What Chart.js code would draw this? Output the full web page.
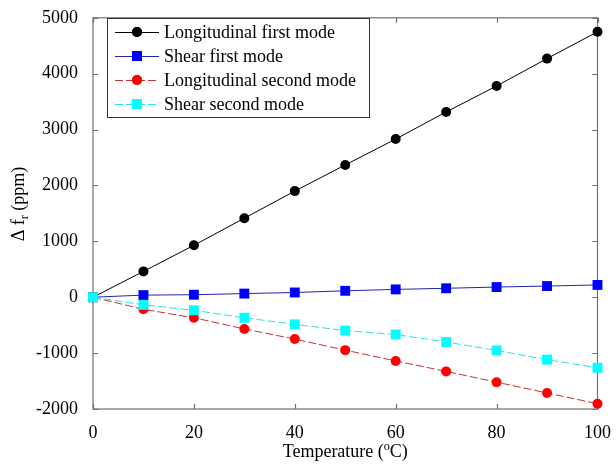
<!DOCTYPE html>
<html>
<head>
<meta charset="utf-8">
<script src="https://cdn.jsdelivr.net/npm/chart.js@4.4.1/dist/chart.umd.min.js"></script>
<style>
html,body{margin:0;padding:0;background:#fff;}
#wrap{width:616px;height:468px;}
</style>
</head>
<body>
<div id="wrap"><canvas id="c" width="616" height="468"></canvas></div>
<script>
const temperatures = [0, 10, 20, 30, 40, 50, 60, 70, 80, 90, 100];
const longitudinalFirst = [0, 462, 929, 1414, 1899, 2367, 2830, 3315, 3780, 4270, 4749];
const shearFirst = [0, 38, 45, 65, 85, 115, 140, 160, 182, 200, 220];
const longitudinalSecond = [0, -216, -368, -567, -749, -947, -1140, -1327, -1520, -1713, -1906];
const shearSecond = [0, -136, -234, -368, -485, -597, -667, -801, -953, -1117, -1263];
const seriesLabels = ['Longitudinal first mode', 'Shear first mode', 'Longitudinal second mode', 'Shear second mode'];
const xTicks = [0, 20, 40, 60, 80, 100];
const yTicks = [-2000, -1000, 0, 1000, 2000, 3000, 4000, 5000];

const FONT = '"Liberation Serif", "Times New Roman", serif';

function pts(vals) { return temperatures.map((t, i) => ({x: t, y: vals[i]})); }

const styles = [
  {line: '#000000', fill: '#000000', shape: 'circle', r: 5, dash: []},
  {line: '#2424a8', fill: '#0000ff', shape: 'rect', r: 7, dash: []},
  {line: '#c83030', fill: '#ff0000', shape: 'circle', r: 5, dash: [8, 3]},
  {line: '#30dede', fill: '#00ffff', shape: 'rect', r: 7, dash: [8, 3]}
];
const allData = [longitudinalFirst, shearFirst, longitudinalSecond, shearSecond];

const datasets = allData.map((vals, i) => ({
  label: seriesLabels[i],
  data: pts(vals),
  borderColor: styles[i].line,
  backgroundColor: styles[i].fill,
  borderWidth: 1,
  borderDash: styles[i].dash,
  pointStyle: styles[i].shape,
  pointRadius: styles[i].r,
  pointBackgroundColor: styles[i].fill,
  pointBorderColor: styles[i].fill,
  pointBorderWidth: 0,
  pointHoverRadius: styles[i].r,
  showLine: true,
  tension: 0,
  clip: false,
  order: 3 - i
}));

const framePlugin = {
  id: 'frame',
  beforeDatasetsDraw(chart) {
    const {ctx, chartArea: a, scales} = chart;
    ctx.save();
    ctx.strokeStyle = '#707070';
    ctx.lineWidth = 1.2;
    ctx.strokeRect(a.left, a.top, a.right - a.left, a.bottom - a.top);
    const tl = 5;
    ctx.beginPath();
    xTicks.forEach(v => {
      const x = Math.round(scales.x.getPixelForValue(v)) + 0.5;
      ctx.moveTo(x, a.bottom); ctx.lineTo(x, a.bottom - tl);
      ctx.moveTo(x, a.top); ctx.lineTo(x, a.top + tl);
    });
    yTicks.forEach(v => {
      const y = Math.round(scales.y.getPixelForValue(v)) + 0.5;
      ctx.moveTo(a.left, y); ctx.lineTo(a.left + tl, y);
      ctx.moveTo(a.right, y); ctx.lineTo(a.right - tl, y);
    });
    ctx.stroke();
    ctx.restore();
  },
  afterDraw(chart) {
    const {ctx, chartArea: a} = chart;
    ctx.save();
    ctx.fillStyle = '#000';
    const big = '18px ' + FONT, small = '12px ' + FONT;
    const p1 = 'Temperature (', p2 = 'o', p3 = 'C)';
    ctx.font = big; const w1 = ctx.measureText(p1).width, w3 = ctx.measureText(p3).width;
    ctx.font = small; const w2 = ctx.measureText(p2).width;
    const total = w1 + w2 + w3;
    let x = (a.left + a.right) / 2 - total / 2;
    const by = 457;
    ctx.textBaseline = 'alphabetic'; ctx.textAlign = 'left';
    ctx.font = big; ctx.fillText(p1, x, by); x += w1;
    ctx.font = small; ctx.fillText(p2, x, by - 7); x += w2;
    ctx.font = big; ctx.fillText(p3, x, by);
    const q1 = '\u0394 f', q2 = 'r', q3 = ' (ppm)';
    ctx.font = big; const v1 = ctx.measureText(q1).width, v3 = ctx.measureText(q3).width;
    ctx.font = small; const v2 = ctx.measureText(q2).width;
    const tot2 = v1 + v2 + v3;
    ctx.translate(24, 204);
    ctx.rotate(-Math.PI / 2);
    let xx = -tot2 / 2;
    ctx.font = big; ctx.fillText(q1, xx, 0); xx += v1;
    ctx.font = small; ctx.fillText(q2, xx, 4); xx += v2;
    ctx.font = big; ctx.fillText(q3, xx, 0);
    ctx.restore();

    ctx.save();
    const L = 107, T = 18, R = 369, B = 117;
    ctx.fillStyle = '#fff';
    ctx.fillRect(L, T, R - L, B - T);
    ctx.strokeStyle = '#333';
    ctx.lineWidth = 1;
    ctx.strokeRect(L + 0.5, T + 0.5, R - L, B - T);
    chart.data.datasets.forEach((ds, i) => {
      const cy = 32 + i * 24;
      ctx.strokeStyle = ds.borderColor;
      ctx.lineWidth = 1;
      ctx.setLineDash(ds.borderDash);
      ctx.beginPath(); ctx.moveTo(115, cy + 0.5); ctx.lineTo(159, cy + 0.5); ctx.stroke();
      ctx.setLineDash([]);
      ctx.fillStyle = ds.pointBackgroundColor;
      Chart.helpers.drawPoint(ctx, {pointStyle: ds.pointStyle, radius: ds.pointRadius, borderWidth: 0}, 137, cy);
      ctx.fill();
      ctx.fillStyle = '#000';
      ctx.font = '18px ' + FONT;
      ctx.textBaseline = 'middle';
      ctx.textAlign = 'left';
      ctx.fillText(ds.label, 164, cy + 1);
    });
    ctx.restore();
  }
};

new Chart(document.getElementById('c'), {
  type: 'scatter',
  data: {datasets},
  options: {
    responsive: false,
    animation: false,
    devicePixelRatio: 1,
    layout: {padding: {top: 12, right: 16, left: 0, bottom: 0}},
    plugins: {legend: {display: false}, tooltip: {enabled: false}},
    scales: {
      x: {
        type: 'linear', min: 0, max: 100,
        afterBuildTicks(s) { s.ticks = xTicks.map(v => ({value: v})); },
        afterFit(s) { s.height = 59; },
        grid: {display: false}, border: {display: false},
        ticks: {color: '#000', padding: 5, font: {family: FONT, size: 18}, maxRotation: 0, autoSkip: false,
                callback: v => String(v)}
      },
      y: {
        type: 'linear', min: -2000, max: 5000,
        afterBuildTicks(s) { s.ticks = yTicks.map(v => ({value: v})); },
        afterFit(s) { s.width = 93; },
        grid: {display: false}, border: {display: false},
        ticks: {color: '#000', padding: 7, font: {family: FONT, size: 18}, autoSkip: false,
                callback: v => String(v)}
      }
    }
  },
  plugins: [framePlugin]
});
</script>
</body>
</html>
